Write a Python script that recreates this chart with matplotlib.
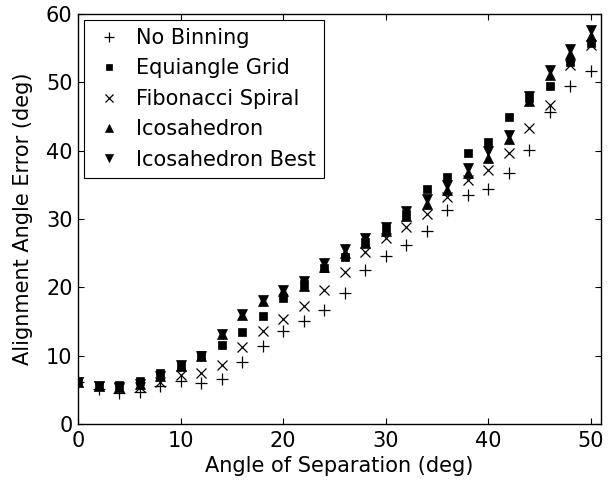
import matplotlib
matplotlib.use("Agg")
import matplotlib.pyplot as plt

plt.rcParams["font.family"] = ["DejaVu Sans"]

angles = list(range(0, 52, 2))

no_binning = [6.2, 5.1, 4.5, 4.7, 5.6, 6.3, 6.0, 6.6, 9.1, 11.4, 13.6, 15.0, 16.7,
              19.2, 22.6, 24.6, 26.2, 28.3, 31.3, 33.5, 34.4, 36.7, 40.1, 45.7, 49.4, 51.6]
equiangle = [6.2, 5.6, 5.7, 6.3, 7.5, 8.6, 10.1, 11.5, 13.4, 15.8, 18.4, 20.5, 22.9,
             24.4, 26.6, 28.6, 30.7, 34.4, 36.2, 39.7, 41.3, 44.9, 47.7, 49.5, 53.0, 55.8]
fibonacci = [6.2, 5.5, 5.2, 5.4, 6.2, 7.2, 7.4, 8.7, 11.2, 13.6, 15.4, 17.3, 19.6,
             22.2, 25.1, 27.2, 28.9, 30.7, 33.2, 35.7, 37.1, 39.7, 43.3, 46.7, 52.6, 55.5]
icosahedron = [6.2, 5.6, 5.4, 5.9, 7.0, 8.5, 9.9, 13.1, 16.0, 18.0, 19.5, 20.2, 23.0,
               25.0, 26.5, 28.3, 30.4, 32.2, 34.3, 36.7, 38.9, 41.7, 47.3, 51.1, 54.2, 56.8]
icosahedron_best = [6.2, 5.6, 5.4, 5.9, 7.0, 8.6, 10.0, 13.2, 16.1, 18.1, 19.6, 21.0, 23.5,
                    25.6, 27.2, 28.9, 31.1, 33.0, 35.0, 37.5, 40.0, 42.3, 48.0, 51.8, 54.9, 57.6]

series = [
    ("No Binning", no_binning, "+", 9),
    ("Equiangle Grid", equiangle, "s", 5.5),
    ("Fibonacci Spiral", fibonacci, "x", 6.5),
    ("Icosahedron", icosahedron, "^", 7.5),
    ("Icosahedron Best", icosahedron_best, "v", 7.5),
]

fig = plt.figure(figsize=(6.15, 4.84), dpi=100)
ax = fig.add_axes([0.127, 0.124, 0.850, 0.847])

for label, values, marker, size in series:
    filled = marker in ("s", "^", "v")
    ax.plot(angles, values, linestyle="none", marker=marker, markersize=size,
            color="black", markeredgewidth=0.5 if filled else 0.9, label=label)

ax.set_xlim(0, 51)
ax.set_ylim(0, 60)
ax.set_xticks(range(0, 51, 10))
ax.set_yticks(range(0, 61, 10))
ax.tick_params(direction="in", top=True, right=True, length=4, width=0.8,
               labelsize=15)
ax.tick_params(axis="x", pad=5)
ax.tick_params(axis="y", pad=4)
for spine in ax.spines.values():
    spine.set_linewidth(1.0)

ax.set_xlabel("Angle of Separation (deg)", fontsize=15, labelpad=4)
ax.set_ylabel("Alignment Angle Error (deg)", fontsize=15, labelpad=9)

# legend markers in the original are a bit smaller than the plotted ones
leg = ax.legend(loc="upper left", fontsize=15, frameon=True, fancybox=False,
                edgecolor="black", framealpha=1, borderaxespad=0.27,
                handletextpad=0.5, labelspacing=0.5, borderpad=0.4,
                handlelength=1.6, markerscale=0.8)
leg.get_frame().set_linewidth(0.8)

fig.savefig("out.png", dpi=100)
